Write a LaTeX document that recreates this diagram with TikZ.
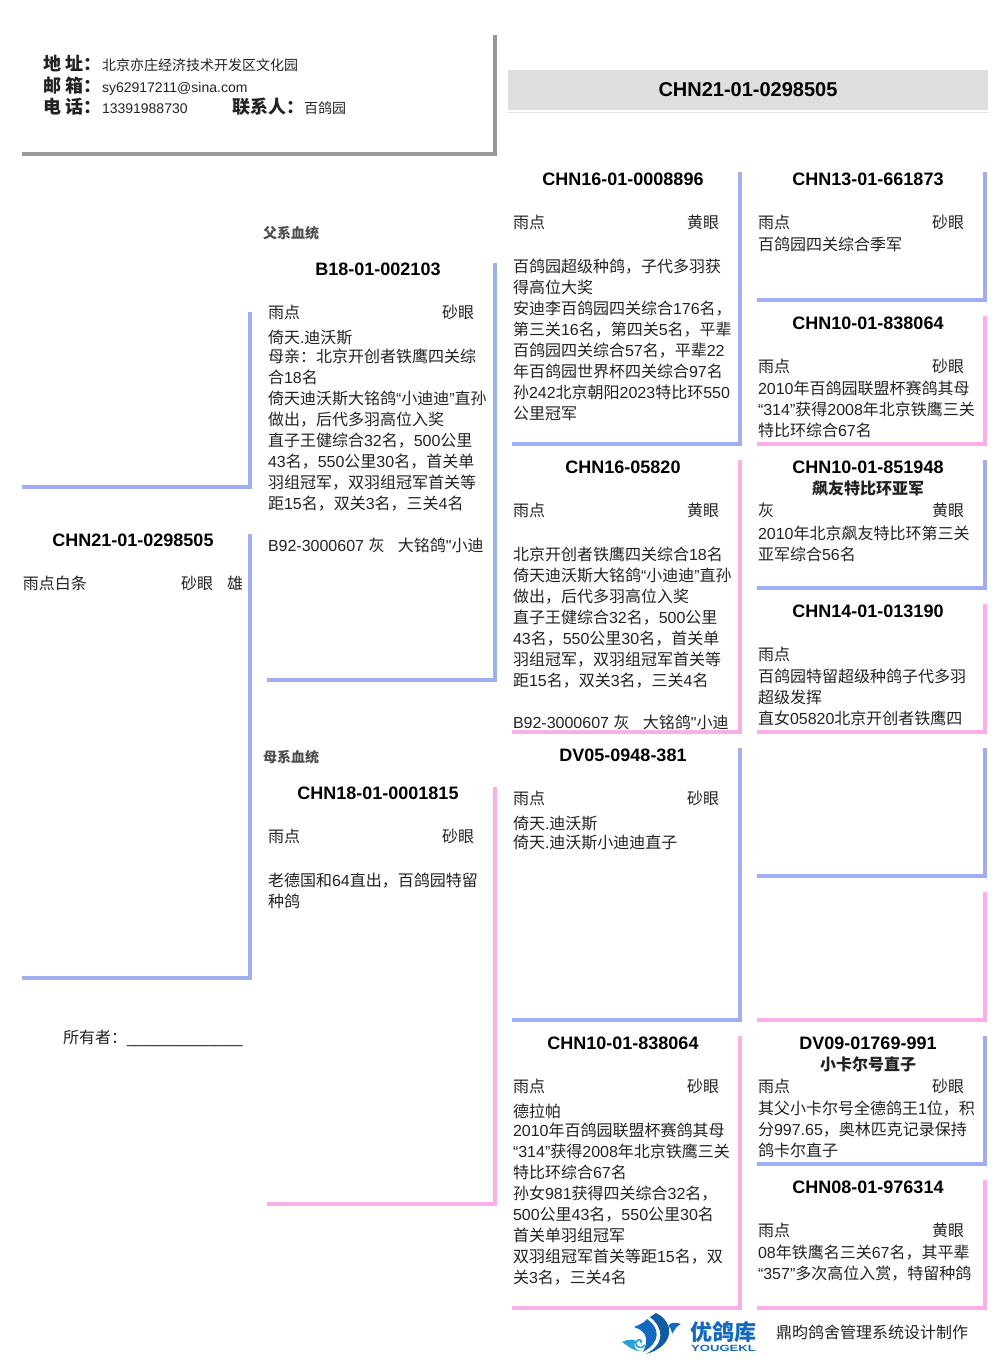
\documentclass[tikz,border=0pt]{standalone}
\usepackage{xcolor}
\usepackage{fontspec}
\usepackage{tikz}
\setmainfont{Noto Sans CJK SC}
\newfontfamily\arial{Liberation Sans}
\newfontfamily\logofont[FakeStretch=1.45]{Liberation Sans}
\newcommand{\lat}[1]{{\arial #1}}
\definecolor{sirebar}{RGB}{160, 175, 240}
\definecolor{dambar}{RGB}{250, 175, 235}
\definecolor{framegray}{RGB}{153, 153, 153}
\definecolor{inkgray}{RGB}{34, 34, 34}
\definecolor{logoblue}{RGB}{20, 105, 190}
\definecolor{logocyan}{RGB}{40, 160, 220}
\tikzset{
    cell/.style = {anchor=north west, align=left, inner sep=0pt, outer sep=0pt, yshift=9pt, text=inkgray, font=\fontsize{16}{21}\selectfont, execute at begin node={\rule{0pt}{15pt}}},
    para/.style = {cell, yshift=-2pt},
    ringid/.style = {anchor=base, inner sep=0pt, yshift=-6.5pt, text=black, font=\arial\bfseries\fontsize{18}{21}\selectfont},
    award/.style = {anchor=base, inner sep=0pt, yshift=-6.5pt, text=inkgray, font=\bfseries\fontsize{16}{21}\selectfont},
    lineage/.style = {cell, text=inkgray!80, font=\bfseries\fontsize{14}{21}\selectfont},
    headlabel/.style = {cell, text=inkgray, font=\bfseries\fontsize{18}{21}\selectfont},
    headvalue/.style = {cell, font=\fontsize{14}{21}\selectfont},
    sire/.style = {draw=sirebar, line width=4pt},
    dam/.style = {draw=dambar, line width=4pt}
}
\begin{document}
\begin{tikzpicture}[x=1pt, y=-1pt]
\useasboundingbox (0,0) rectangle (1006,1366);
% Header
\draw [draw=framegray, line width=4pt] (22,153.5) -- (495,153.5) -- (495,35);
\node (addrKey) [headlabel] at (43,64) {地\lat{ }址：};
\node (mailKey) [headlabel] at (43,86) {邮\lat{ }箱：};
\node (telKey) [headlabel] at (43,107) {电\lat{ }话：};
\node (contactKey) [headlabel] at (232,107) {联系人：};
\node (addrVal) [headvalue] at (102,64) {北京亦庄经济技术开发区文化园};
\node (mailVal) [headvalue] at (102,86) {\lat{sy62917211@sina.com}};
\node (telVal) [headvalue] at (102,107) {\lat{13391988730}};
\node (contactVal) [headvalue] at (304,107) {百鸽园};

\node (banner) [fill=black!13, minimum width=480pt, minimum height=40pt, inner sep=0pt, anchor=center, text=black, font=\arial\bfseries\fontsize{20}{24}\selectfont] at (748,90) {CHN21-01-0298505};
\draw [draw=black!10, line width=1pt] (banner.south west) ++(0,2.5) -- ++(480,0);

% Bars
\draw [sire] (22,487) -- (250,487) -- (250,312);
\draw [sire] (22,978) -- (250,978) -- (250,534);
\draw [sire] (267,680) -- (495,680) -- (495,263);
\draw [dam] (267,1204) -- (495,1204) -- (495,787);
\draw [sire] (512,444) -- (740,444) -- (740,172);
\draw [dam] (512,732) -- (740,732) -- (740,460);
\draw [sire] (512,1020) -- (740,1020) -- (740,748);
\draw [dam] (512,1308) -- (740,1308) -- (740,1036);
\draw [sire] (757,300) -- (985,300) -- (985,172);
\draw [dam] (757,444) -- (985,444) -- (985,316);
\draw [sire] (757,588) -- (985,588) -- (985,460);
\draw [dam] (757,732) -- (985,732) -- (985,604);
\draw [sire] (757,876) -- (985,876) -- (985,748);
\draw [dam] (757,1020) -- (985,1020) -- (985,892);
\draw [sire] (757,1164) -- (985,1164) -- (985,1036);
\draw [dam] (757,1308) -- (985,1308) -- (985,1180);

% Bird
\node (birdId) [ringid] at (133,540) {CHN21-01-0298505};
\node (birdCol) [cell] at (23,583) {雨点白条};
\node (birdEye) [cell] at (181,583) {砂眼};
\node (birdSex) [cell] at (227,583) {雄};
\node (owner) [cell] at (63,1037) {所有者：\lat{\_\_\_\_\_\_\_\_\_\_\_\_\_}};

% Sire
\node (sireTag) [lineage] at (263,232) {父系血统};
\node (sireId) [ringid] at (378,268.5) {B18-01-002103};
\node (sireCol) [cell] at (268,312) {雨点};
\node (sireEye) [cell] at (442,312) {砂眼};
\node (sireText) [para] at (268,337) {倚天\lat{.}迪沃斯\\[-2pt]
母亲：北京开创者铁鹰四关综\\
合\lat{18}名\\
倚天迪沃斯大铭鸽\lat{“}小迪迪\lat{”}直孙\\
做出，后代多羽高位入奖\\
直子王健综合\lat{32}名，\lat{500}公里\\
\lat{43}名，\lat{550}公里\lat{30}名，首关单\\
羽组冠军，双羽组冠军首关等\\
距\lat{15}名，双关\lat{3}名，三关\lat{4}名};
\node (sireMate) [cell] at (268,545) {\lat{B92-3000607 }灰\lat{~~~}大铭鸽\lat{"}小迪};

% Dam
\node (damTag) [lineage] at (263,756) {母系血统};
\node (damId) [ringid] at (378,792.5) {CHN18-01-0001815};
\node (damCol) [cell] at (268,836) {雨点};
\node (damEye) [cell] at (442,836) {砂眼};
\node (damText) [para] at (268,880) {老德国和\lat{64}直出，百鸽园特留\\
种鸽};

% Grandparents
\node (ssId) [ringid] at (623,179) {CHN16-01-0008896};
\node (ssCol) [cell] at (513,222) {雨点};
\node (ssEye) [cell] at (687,222) {黄眼};
\node (ssText) [para] at (513,266) {百鸽园超级种鸽，子代多羽获\\
得高位大奖\\
安迪李百鸽园四关综合\lat{176}名，\\
第三关\lat{16}名，第四关\lat{5}名，平辈\\
百鸽园四关综合\lat{57}名，平辈\lat{22}\\
年百鸽园世界杯四关综合\lat{97}名\\
孙\lat{242}北京朝阳\lat{2023}特比环\lat{550}\\
公里冠军};

\node (sdId) [ringid] at (623,467) {CHN16-05820};
\node (sdCol) [cell] at (513,510) {雨点};
\node (sdEye) [cell] at (687,510) {黄眼};
\node (sdText) [para] at (513,554) {北京开创者铁鹰四关综合\lat{18}名\\
倚天迪沃斯大铭鸽\lat{“}小迪迪\lat{”}直孙\\
做出，后代多羽高位入奖\\
直子王健综合\lat{32}名，\lat{500}公里\\
\lat{43}名，\lat{550}公里\lat{30}名，首关单\\
羽组冠军，双羽组冠军首关等\\
距\lat{15}名，双关\lat{3}名，三关\lat{4}名};
\node (sdMate) [cell] at (513,722) {\lat{B92-3000607 }灰\lat{~~~}大铭鸽\lat{"}小迪};

\node (dsId) [ringid] at (623,755) {DV05-0948-381};
\node (dsCol) [cell] at (513,798) {雨点};
\node (dsEye) [cell] at (687,798) {砂眼};
\node (dsText) [para] at (513,823) {倚天\lat{.}迪沃斯\\[-2pt]
倚天\lat{.}迪沃斯小迪迪直子};

\node (ddId) [ringid] at (623,1043) {CHN10-01-838064};
\node (ddCol) [cell] at (513,1086) {雨点};
\node (ddEye) [cell] at (687,1086) {砂眼};
\node (ddText) [para] at (513,1111) {德拉帕\\[-2pt]
\lat{2010}年百鸽园联盟杯赛鸽其母\\
\lat{“314”}获得\lat{2008}年北京铁鹰三关\\
特比环综合\lat{67}名\\
孙女\lat{981}获得四关综合\lat{32}名，\\
\lat{500}公里\lat{43}名，\lat{550}公里\lat{30}名\\
首关单羽组冠军\\
双羽组冠军首关等距\lat{15}名，双\\
关\lat{3}名，三关\lat{4}名};

% Great grandparents
\node (sssId) [ringid] at (868,179) {CHN13-01-661873};
\node (sssCol) [cell] at (758,222) {雨点};
\node (sssEye) [cell] at (932,222) {砂眼};
\node (sssText) [cell] at (758,244) {百鸽园四关综合季军};

\node (ssdId) [ringid] at (868,323) {CHN10-01-838064};
\node (ssdCol) [cell] at (758,366) {雨点};
\node (ssdEye) [cell] at (932,366) {砂眼};
\node (ssdText) [para] at (758,388) {\lat{2010}年百鸽园联盟杯赛鸽其母\\
\lat{“314”}获得\lat{2008}年北京铁鹰三关\\
特比环综合\lat{67}名};

\node (sdsId) [ringid] at (868,467) {CHN10-01-851948};
\node (sdsName) [award] at (868,488) {飙友特比环亚军};
\node (sdsCol) [cell] at (758,510) {灰};
\node (sdsEye) [cell] at (932,510) {黄眼};
\node (sdsText) [para] at (758,533) {\lat{2010}年北京飙友特比环第三关\\
亚军综合\lat{56}名};

\node (sddId) [ringid] at (868,611) {CHN14-01-013190};
\node (sddCol) [cell] at (758,654) {雨点};
\node (sddText) [para] at (758,676) {百鸽园特留超级种鸽子代多羽\\
超级发挥\\
直女\lat{05820}北京开创者铁鹰四};

\node (ddsId) [ringid] at (868,1043) {DV09-01769-991};
\node (ddsName) [award] at (868,1064) {小卡尔号直子};
\node (ddsCol) [cell] at (758,1086) {雨点};
\node (ddsEye) [cell] at (932,1086) {砂眼};
\node (ddsText) [para] at (758,1108) {其父小卡尔号全德鸽王\lat{1}位，积\\
分\lat{997.65}，奥林匹克记录保持\\
鸽卡尔直子};

\node (dddId) [ringid] at (868,1187) {CHN08-01-976314};
\node (dddCol) [cell] at (758,1230) {雨点};
\node (dddEye) [cell] at (932,1230) {黄眼};
\node (dddText) [para] at (758,1252) {\lat{08}年铁鹰名三关\lat{67}名，其平辈\\
\lat{“357”}多次高位入赏，特留种鸽};

% Logo
\fill [logoblue] (634,1327) .. controls (641,1324) and (645,1322) .. (647,1319) .. controls (660,1328) and (661,1342) .. (643,1352) .. controls (649,1340) and (647,1331) .. (634,1327);
\fill [logoblue!85!black] (650,1317) -- (656,1313) .. controls (675,1322) and (675,1346) .. (646,1354) .. controls (665,1344) and (664,1328) .. (650,1317);
\fill [logoblue] (668,1326) .. controls (671,1322) and (675,1322) .. (681,1324) .. controls (676,1326) and (674,1331) .. (672,1334) .. controls (672,1331) and (671,1328) .. (668,1326);
\draw [logocyan, line width=1.6pt] (641,1343) .. controls (643,1340) and (638,1338) .. (636,1342) .. controls (634,1347) and (642,1350) .. (645,1345);
\fill [logocyan] (622,1342) .. controls (628,1339) and (633,1339) .. (636,1341) .. controls (632,1347) and (636,1351) .. (642,1351) .. controls (634,1352) and (628,1346) .. (622,1342);
\node (logoName) [anchor=center, inner sep=0pt, text=logoblue, font=\bfseries\fontsize{22}{24}\selectfont] at (723.5,1332) {优鸽库};
\node (logoLatin) [anchor=center, inner sep=0pt, text=logoblue, font=\logofont\bfseries\fontsize{9}{10}\selectfont] at (723.5,1348) {YOUGEKL};
\node (credit) [cell] at (776,1332) {鼎昀鸽舍管理系统设计制作};
\end{tikzpicture}
\end{document}
